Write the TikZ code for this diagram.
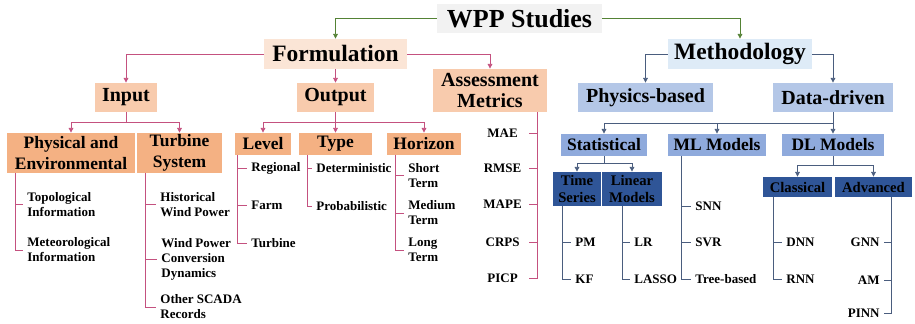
\documentclass[tikz,border=0pt]{standalone}
\usepackage{fontspec}
\setmainfont{Liberation Serif}
\usetikzlibrary{arrows.meta,positioning}
\definecolor{cWpp}{HTML}{F2F2F2}
\definecolor{cForm}{HTML}{FBE5D6}
\definecolor{cFormA}{HTML}{F8CBAD}
\definecolor{cFormB}{HTML}{F4B183}
\definecolor{cMeth}{HTML}{DEEBF7}
\definecolor{cMethA}{HTML}{B4C7E7}
\definecolor{cMethB}{HTML}{8FAADC}
\definecolor{cMethC}{HTML}{2F5597}
\definecolor{lnGreen}{HTML}{548235}
\definecolor{lnPink}{HTML}{C4517F}
\definecolor{lnBlue}{HTML}{4A5D7E}

\begin{document}
\begin{tikzpicture}[x=0.75pt,y=-0.75pt,>={Triangle[length=3.5pt,width=3.5pt]},line width=0.6pt]
    \tikzset{box/.style={inner sep=0pt,align=center,font=\bfseries},
      sz/.style 2 args={minimum width=#1*0.75pt,minimum height=#2*0.75pt},
      lv0/.style={font=\bfseries\fontsize{19.5}{22}\selectfont},
      lv1/.style={font=\bfseries\fontsize{17.6}{19}\selectfont},
      lv2/.style={font=\bfseries\fontsize{15}{16}\selectfont},
      lv3/.style={font=\bfseries\fontsize{13.1}{15.5}\selectfont},
      lv4/.style={font=\bfseries\fontsize{11}{12.8}\selectfont},
      leaf/.style={anchor=west,align=left,inner xsep=3pt,inner ysep=0pt,font=\bfseries\fontsize{9.75}{11.3}\selectfont},
      rleaf/.style={leaf,anchor=east,align=right},
      metric/.style={leaf,anchor=east,align=center,inner xsep=0pt,minimum width=39pt},
      garrow/.style={->,draw=lnGreen},
      parrow/.style={->,draw=lnPink},
      pline/.style={draw=lnPink},
      barrow/.style={->,draw=lnBlue},
      bline/.style={draw=lnBlue}}
    \useasboundingbox (0,0) rectangle (915,324);

    % top
    \node[box,lv0,fill=cWpp,sz={165}{29}] (wpp) at (519.5,18.5) {WPP Studies};
    \node[box,lv1,fill=cForm,sz={143}{30}] (form) at (335.5,54) {Formulation};
    \node[box,lv1,fill=cMeth,sz={144}{30}] (meth) at (740,54) {Methodology};

    % formulation side
    \node[box,lv2,fill=cFormA,sz={62}{29}] (input) at (126,97.5) {Input};
    \node[box,lv2,fill=cFormA,sz={77}{29}] (output) at (335.5,97.5) {Output};
    \node[box,lv2,fill=cFormA,sz={114}{43}] (assess) at (490,90.5) {Assessment\\Metrics};
    \node[box,lv3,fill=cFormB,sz={128}{40}] (physenv) at (71,153) {Physical and\\Environmental};
    \node[box,lv3,fill=cFormB,sz={85}{40}] (turb) at (179.5,153) {Turbine\\System};
    \node[box,lv3,fill=cFormB,sz={56}{22}] (level) at (263,144) {Level};
    \node[box,lv3,fill=cFormB,sz={73}{22}] (type) at (335.5,144) {Type};
    \node[box,lv3,fill=cFormB,sz={74}{22}] (horizon) at (424,144) {Horizon};

    % methodology side
    \node[box,lv2,fill=cMethA,sz={135}{29}] (physb) at (645.5,97.5) {Physics-based};
    \node[box,lv2,fill=cMethA,sz={120}{29}] (data) at (833,97.5) {Data-driven};
    \node[box,lv3,fill=cMethB,sz={86}{22}] (stat) at (604,145) {Statistical};
    \node[box,lv3,fill=cMethB,sz={98}{22}] (ml) at (717,145) {ML Models};
    \node[box,lv3,fill=cMethB,sz={102}{22}] (dl) at (833,145) {DL Models};
    \node[box,lv4,fill=cMethC,sz={48}{34}] (ts) at (577,189) {Time\\Series};
    \node[box,lv4,fill=cMethC,sz={60}{34}] (lin) at (632,189) {Linear\\Models};
    \node[box,lv4,fill=cMethC,sz={69}{20}] (class) at (797.5,187) {Classical};
    \node[box,lv4,fill=cMethC,sz={77}{20}] (adv) at (873.5,187) {Advanced};

    % leaves
    \node[leaf] (topo) at (23,204.5) {Topological\\Information};
    \node[leaf] (meteo) at (23,250) {Meteorological\\Information};
    \node[leaf] (hist) at (156,204.5) {Historical\\Wind Power};
    \node[leaf] (conv) at (157,259) {Wind Power\\Conversion\\Dynamics};
    \node[leaf] (scada) at (156,307) {Other SCADA\\Records};
    \node[leaf] (regional) at (247,168) {Regional};
    \node[leaf] (farm) at (247,205) {Farm};
    \node[leaf] (turbine) at (247,243) {Turbine};
    \node[leaf] (determ) at (312,168) {Deterministic};
    \node[leaf] (prob) at (312,206) {Probabilistic};
    \node[leaf] (short) at (404,175.5) {Short\\Term};
    \node[leaf] (medium) at (404,213) {Medium\\Term};
    \node[leaf] (long) at (404,250) {Long\\Term};
    \node[metric] (mae) at (529,133) {MAE};
    \node[metric] (rmse) at (529,168) {RMSE};
    \node[metric] (mape) at (529,204) {MAPE};
    \node[metric] (crps) at (529,242) {CRPS};
    \node[metric] (picp) at (529,278) {PICP};
    \node[leaf] (pm) at (571,242) {PM};
    \node[leaf] (kf) at (571,279) {KF};
    \node[leaf] (lr) at (630,242) {LR};
    \node[leaf] (lasso) at (630,279) {LASSO};
    \node[leaf] (snn) at (691,206) {SNN};
    \node[leaf] (svr) at (691,242) {SVR};
    \node[leaf] (tree) at (691,279) {Tree-based};
    \node[leaf] (dnn) at (782,242) {DNN};
    \node[leaf] (rnn) at (782,279) {RNN};
    \node[rleaf] (gnn) at (884,242) {GNN};
    \node[rleaf] (am) at (884,280) {AM};
    \node[rleaf] (pinn) at (884,313) {PINN};

    % trunks of the leaf lists
    \coordinate (peT) at (15,173);
    \coordinate (tuT) at (145,173);
    \coordinate (leT) at (237,155);
    \coordinate (tyT) at (307,155);
    \coordinate (hoT) at (395,155);
    \coordinate (asT) at (537,112);
    \coordinate (tsT) at (562,206);
    \coordinate (liT) at (622,206);
    \coordinate (mlT) at (681,156);
    \coordinate (clT) at (773,197);
    \coordinate (adT) at (891,197);

    % arrows
    \draw[garrow] (wpp.west) -| (form.north);
    \draw[garrow] (wpp.east) -| (meth.north);
    \draw[parrow] (form.west) -| (input.north);
    \draw[parrow] (form.south) -- (output.north);
    \draw[parrow] (form.east) -| (assess.north);
    \draw[barrow] (meth.west) -| (physb.north);
    \draw[barrow] (meth.east) -| (data.north);
    \draw[parrow] (input.south) -- ++(0,10.5) -| (physenv.north);
    \draw[parrow] (input.south) -- ++(0,10.5) -| (turb.north);
    \draw[parrow] (output.south) -- ++(0,10.5) -| (level.north);
    \draw[parrow] (output.south) -- (type.north);
    \draw[parrow] (output.south) -- ++(0,10.5) -| (horizon.north);
    \draw[barrow] (data.south) -- ++(0,11) -| (stat.north);
    \draw[barrow] (data.south) -- ++(0,11) -| (ml.north);
    \draw[barrow] (data.south) -- (dl.north);
    \draw[barrow] (stat.south) -- ++(0,7.5) -| (ts.north);
    \draw[barrow] (stat.south) -- ++(0,7.5) -| (lin.north);
    \draw[barrow] (dl.south) -- ++(0,9.5) -| (class.north);
    \draw[barrow] (dl.south) -- ++(0,9.5) -| (adv.north);

    % leaf lines
    \draw[pline] (peT) |- (meteo.west) (peT |- topo) -- (topo.west);
    \draw[pline] (tuT) |- (scada.west) (tuT |- hist) -- (hist.west)
      (tuT |- conv) -- (conv.west);
    \draw[pline] (leT) |- (turbine.west) (leT |- regional) -- (regional.west)
      (leT |- farm) -- (farm.west);
    \draw[pline] (tyT) |- (prob.west) (tyT |- determ) -- (determ.west);
    \draw[pline] (hoT) |- (long.west) (hoT |- short) -- (short.west)
      (hoT |- medium) -- (medium.west);
    \draw[pline] (asT) |- (picp.east) (asT |- mae) -- (mae.east)
      (asT |- rmse) -- (rmse.east) (asT |- mape) -- (mape.east)
      (asT |- crps) -- (crps.east);
    \draw[bline] (tsT) |- (kf.west) (tsT |- pm) -- (pm.west);
    \draw[bline] (liT) |- (lasso.west) (liT |- lr) -- (lr.west);
    \draw[bline] (mlT) |- (tree.west) (mlT |- snn) -- (snn.west)
      (mlT |- svr) -- (svr.west);
    \draw[bline] (clT) |- (rnn.west) (clT |- dnn) -- (dnn.west);
    \draw[bline] (adT) |- (pinn.east) (adT |- gnn) -- (gnn.east)
      (adT |- am) -- (am.east);
\end{tikzpicture}
\end{document}
